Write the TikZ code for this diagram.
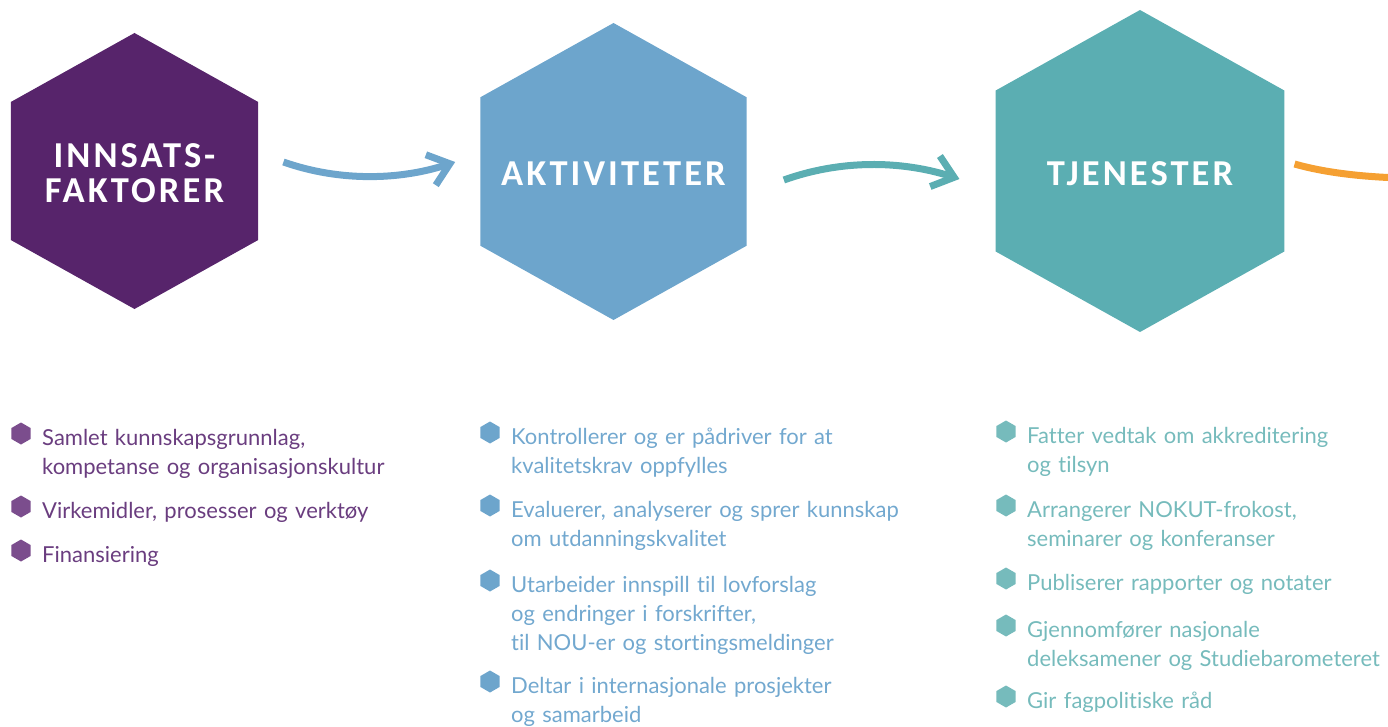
\documentclass[tikz,border=0pt]{standalone}
\usepackage{fontspec}
\setmainfont{Lato}[Ligatures=NoCommon]
\newfontfamily\hexfont[LetterSpace=8.5]{Carlito}
\usetikzlibrary{shapes.geometric,arrows.meta,positioning}
\definecolor{purp}{HTML}{57246B}
\definecolor{ptext}{HTML}{6A3D7F}
\definecolor{pdot}{HTML}{7B4D8D}
\definecolor{blu}{HTML}{6DA5CC}
\definecolor{btext}{HTML}{72A8CF}
\definecolor{teal}{HTML}{5BAEB2}
\definecolor{ttext}{HTML}{76BBBC}
\definecolor{orng}{HTML}{F5A032}
\tikzset{
  hexa/.style={regular polygon, regular polygon sides=6, shape border rotate=30,
    fill=#1, inner sep=0pt, xscale=1.035},
  hexlabel/.style={text=white, font=\hexfont\bfseries\fontsize{36.5}{35}\selectfont, align=center},
  item/.style={text=#1, font=\fontsize{22}{29.3}\selectfont, text width=400pt,
    align=left, inner sep=0pt, anchor=base west},
  dot/.style={regular polygon, regular polygon sides=6, shape border rotate=30,
    fill=#1, inner sep=0pt, minimum size=22pt},
  flow/.style={draw=#1, line width=7pt, -{Straight Barb[length=20pt,width=32pt]}}
}
\begin{document}
\begin{tikzpicture}[x=1pt,y=-1pt]
\useasboundingbox (0,0) rectangle (1388,727);
\clip (0,0) rectangle (1388,727);
% the three hexagons
\node[hexa=purp, minimum size=276pt, label={[hexlabel,yshift=-2.5pt]center:{INNSATS-\\FAKTORER}}] (inn) at (134.5,171) {};
\node[hexa=blu, minimum size=297pt, label={[hexlabel,yshift=-2pt]center:AKTIVITETER}] (akt) at (613.5,171.5) {};
\node[hexa=teal, minimum size=322pt, label={[hexlabel,yshift=-2.5pt]center:TJENESTER}] (tje) at (1140,171) {};
\coordinate (ut) at (1400,178);
% arrows
\draw[flow=blu] ([shift={(25,-9)}]inn.east) .. controls +(57,20) and +(-55,18) .. ([shift={(-25,-9.5)}]akt.west);
\draw[flow=teal] ([shift={(37,8.5)}]akt.east) .. controls +(56,-20) and +(-60,-19) .. ([shift={(-36,8)}]tje.west);
\draw[orng, line width=7pt] ([shift={(10,-7)}]tje.east) .. controls +(35,10) and +(-30,-1) .. (ut);
% lists
\node[item=ptext] (p1) at (42,445) {Samlet kunnskapsgrunnlag,\\kompetanse og organisasjonskultur};
\node[item=ptext] (p2) at (42,518) {Virkemidler, prosesser og verktøy};
\node[item=ptext] (p3) at (42,562) {Finansiering};
\node[item=btext] (a1) at (511,444) {Kontrollerer og er pådriver for at\\kvalitetskrav oppfylles};
\node[item=btext] (a2) at (511,517) {Evaluerer, analyserer og sprer kunnskap\\om utdanningskvalitet};
\node[item=btext] (a3) at (511,592) {Utarbeider innspill til lovforslag\\og endringer i forskrifter,\\til NOU-er og stortingsmeldinger};
\node[item=btext] (a4) at (511,693) {Deltar i internasjonale prosjekter\\og samarbeid};
\node[item=ttext] (t1) at (1027,443) {Fatter vedtak om akkreditering\\og tilsyn};
\node[item=ttext] (t2) at (1027,517) {Arrangerer NOKUT-frokost,\\seminarer og konferanser};
\node[item=ttext] (t3) at (1027,590) {Publiserer rapporter og notater};
\node[item=ttext] (t4) at (1027,637) {Gjennomfører nasjonale\\deleksamener og Studiebarometeret};
\node[item=ttext] (t5) at (1027,708) {Gir fagpolitiske råd};
% bullets
\foreach \n in {p1,p2,p3}
  \node[dot=pdot] (\n-dot) at ([shift={(-21,-11.5)}]\n.base west) {};
\foreach \n in {a1,a2,a3,a4}
  \node[dot=blu] (\n-dot) at ([shift={(-21,-11.5)}]\n.base west) {};
\foreach \n in {t1,t2,t3,t4,t5}
  \node[dot=ttext] (\n-dot) at ([shift={(-21,-11.5)}]\n.base west) {};
\end{tikzpicture}
\end{document}
